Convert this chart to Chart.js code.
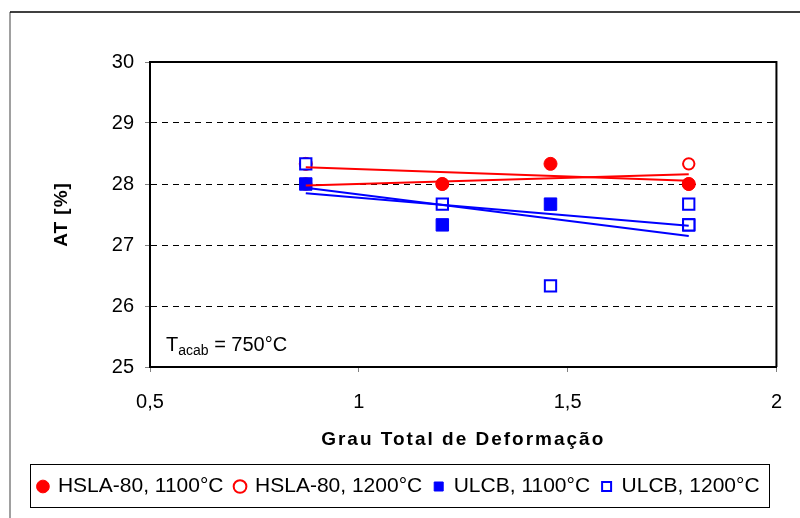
<!DOCTYPE html>
<html>
<head>
<meta charset="utf-8">
<script src="https://cdn.jsdelivr.net/npm/chart.js@4/dist/chart.umd.min.js"></script>
<style>
  html, body { margin: 0; padding: 0; background: #fff; }
  canvas { display: block; }
</style>
</head>
<body>
<canvas id="mainChart" width="800" height="518"></canvas>
<script>
// --- data ---
const seriesLabels = ['HSLA-80, 1100°C', 'HSLA-80, 1200°C', 'ULCB, 1100°C', 'ULCB, 1200°C'];

const hsla1100X = [0.873, 1.2, 1.459, 1.79];
const hsla1100Y = [28.33, 28.0, 28.33, 28.0];

const hsla1200X = [0.873, 1.2, 1.79, 1.79];
const hsla1200Y = [28.0, 28.0, 28.33, 28.0];

const ulcb1100X = [0.873, 1.2, 1.459, 1.79];
const ulcb1100Y = [28.0, 27.33, 27.67, 27.33];

const ulcb1200X = [0.873, 1.2, 1.459, 1.79, 1.79];
const ulcb1200Y = [28.33, 27.67, 26.33, 27.67, 27.33];

const xTicks = [0.5, 1, 1.5, 2];
const yTicks = [25, 26, 27, 28, 29, 30];

const RED = '#ff0000';
const BLUE = '#0000ff';
const FONT = "'Liberation Sans', Arial, sans-serif";

function points(xs, ys) {
    return xs.map((x, i) => ({ x: x, y: ys[i] }));
}

// linear trendline (least squares) between the smallest and largest x of a series
function trend(xs, ys) {
    const n = xs.length;
    const mx = xs.reduce((a, b) => a + b, 0) / n;
    const my = ys.reduce((a, b) => a + b, 0) / n;
    let sxy = 0, sxx = 0;
    xs.forEach((x, i) => { sxy += (x - mx) * (ys[i] - my); sxx += (x - mx) * (x - mx); });
    const k = sxy / sxx;
    const x0 = Math.min(...xs), x1 = Math.max(...xs);
    return [{ x: x0, y: my + k * (x0 - mx) }, { x: x1, y: my + k * (x1 - mx) }];
}

function trendSet(xs, ys, color) {
    return {
        type: 'line',
        label: 'trend',
        data: trend(xs, ys),
        borderColor: color,
        borderWidth: 2,
        pointRadius: 0,
        fill: false,
        order: 0
    };
}

const decor = {
    id: 'decor',
    beforeDraw(chart) {
        const ctx = chart.ctx;
        ctx.save();
        ctx.fillStyle = '#fff';
        ctx.fillRect(0, 0, chart.width, chart.height);
        ctx.lineWidth = 1.5;
        ctx.strokeStyle = '#808080';
        ctx.beginPath();
        ctx.moveTo(10, chart.height);
        ctx.lineTo(10, 12);
        ctx.stroke();
        ctx.strokeStyle = '#000';
        ctx.beginPath();
        ctx.moveTo(10, 12);
        ctx.lineTo(chart.width, 12);
        ctx.stroke();
        ctx.restore();
    },
    beforeDatasetsDraw(chart) {
        const ctx = chart.ctx;
        const a = chart.chartArea;
        ctx.save();
        ctx.strokeStyle = '#000';
        ctx.lineWidth = 2;
        ctx.beginPath();
        ctx.moveTo(a.left, a.top);
        ctx.lineTo(a.right, a.top);
        ctx.lineTo(a.right, a.bottom);
        ctx.stroke();
        ctx.restore();
    },
    afterDraw(chart) {
        const ctx = chart.ctx;
        const a = chart.chartArea;
        ctx.save();
        ctx.fillStyle = '#000';

        // x axis title
        ctx.font = 'bold 19px ' + FONT;
        ctx.letterSpacing = '2px';
        ctx.textAlign = 'center';
        ctx.textBaseline = 'middle';
        ctx.fillText('Grau Total de Deformação', (a.left + a.right) / 2, 440);

        // y axis title
        ctx.letterSpacing = '1px';
        ctx.save();
        ctx.translate(62, (a.top + a.bottom) / 2);
        ctx.rotate(-Math.PI / 2);
        ctx.fillText('AT [%]', 0, 0);
        ctx.restore();
        ctx.letterSpacing = '0px';

        // T_acab annotation
        ctx.textAlign = 'left';
        ctx.textBaseline = 'alphabetic';
        let x = a.left + 16;
        const base = a.bottom - 16;
        ctx.font = '20px ' + FONT;
        ctx.fillText('T', x, base);
        x += ctx.measureText('T').width;
        ctx.font = '14px ' + FONT;
        ctx.fillText('acab', x, base + 4);
        x += ctx.measureText('acab').width;
        ctx.font = '20px ' + FONT;
        ctx.fillText(' = 750°C', x, base);

        // box round the legend
        const lg = chart.legend;
        if (lg && lg.legendHitBoxes.length) {
            const hb = lg.legendHitBoxes;
            const l = Math.min(...hb.map(h => h.left)) - 8;
            const r = Math.max(...hb.map(h => h.left + h.width)) + 10;
            ctx.strokeStyle = '#000';
            ctx.lineWidth = 1;
            ctx.strokeRect(Math.round(l) + 0.5, Math.round(lg.top) + 0.5, Math.round(r - l), Math.round(lg.height));
        }
        ctx.restore();
    }
};

const ctx = document.getElementById('mainChart').getContext('2d');

new Chart(ctx, {
    type: 'scatter',
    data: {
        datasets: [
            {
                label: seriesLabels[0],
                data: points(hsla1100X, hsla1100Y),
                pointStyle: 'circle',
                pointRadius: 6.5,
                pointBackgroundColor: RED,
                pointBorderColor: RED,
                pointBorderWidth: 1,
                order: 3
            },
            {
                label: seriesLabels[1],
                data: points(hsla1200X, hsla1200Y),
                pointStyle: 'circle',
                pointRadius: 5.7,
                pointBackgroundColor: '#fff',
                pointBorderColor: RED,
                pointBorderWidth: 2,
                order: 4
            },
            {
                label: seriesLabels[2],
                data: points(ulcb1100X, ulcb1100Y),
                pointStyle: 'rect',
                pointRadius: 8.8,
                pointBackgroundColor: BLUE,
                pointBorderColor: BLUE,
                pointBorderWidth: 1,
                order: 2
            },
            {
                label: seriesLabels[3],
                data: points(ulcb1200X, ulcb1200Y),
                pointStyle: 'rect',
                pointRadius: 8.0,
                pointBackgroundColor: '#fff',
                pointBorderColor: BLUE,
                pointBorderWidth: 2,
                order: 1
            },
            trendSet(hsla1100X, hsla1100Y, RED),
            trendSet(hsla1200X, hsla1200Y, RED),
            trendSet(ulcb1100X, ulcb1100Y, BLUE),
            trendSet(ulcb1200X, ulcb1200Y, BLUE)
        ]
    },
    options: {
        responsive: false,
        animation: false,
        layout: { padding: { top: 62, left: 20, right: 22, bottom: 11 } },
        plugins: {
            tooltip: { enabled: false },
            legend: {
                position: 'bottom',
                labels: {
                    usePointStyle: true,
                    boxHeight: 9,
                    boxWidth: 9,
                    padding: 12,
                    color: '#000',
                    font: { family: FONT, size: 21 },
                    filter: item => item.text !== 'trend',
                    sort: (a, b) => a.datasetIndex - b.datasetIndex
                }
            }
        },
        scales: {
            x: {
                type: 'linear',
                min: xTicks[0],
                max: xTicks[xTicks.length - 1],
                afterBuildTicks: s => { s.ticks = xTicks.map(v => ({ value: v })); },
                afterFit: s => { s.height = 97; },
                ticks: {
                    padding: 18,
                    color: '#000',
                    font: { family: FONT, size: 20 },
                    callback: v => String(v).replace('.', ',')
                },
                grid: { drawOnChartArea: false, tickLength: 5, tickColor: '#808080', tickWidth: 1 },
                border: { color: '#000', width: 2 }
            },
            y: {
                min: yTicks[0],
                max: yTicks[yTicks.length - 1],
                afterBuildTicks: s => { s.ticks = yTicks.map(v => ({ value: v })); },
                afterFit: s => { s.width = 130; },
                ticks: {
                    padding: 11,
                    color: '#000',
                    font: { family: FONT, size: 20 },
                    callback: v => String(v)
                },
                grid: {
                    color: c => (c.tick && (c.tick.value === yTicks[0] || c.tick.value === yTicks[yTicks.length - 1])) ? 'rgba(0,0,0,0)' : '#000',
                    lineWidth: 1,
                    tickLength: 5,
                    tickColor: '#808080',
                    tickBorderDash: []
                },
                border: { color: '#000', width: 2, dash: [6, 5] }
            }
        }
    },
    plugins: [decor]
});
</script>
</body>
</html>
